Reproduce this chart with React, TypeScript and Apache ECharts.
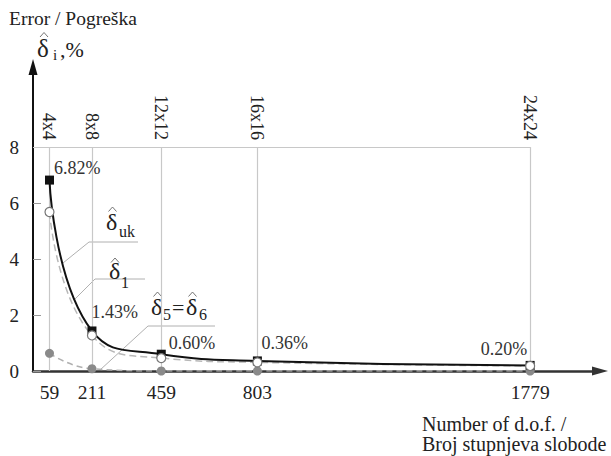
import React, { useEffect, useRef } from 'react';
import * as echarts from 'echarts';

// ---- data ----
const dof = [59, 211, 459, 803, 1779];
const meshLabels = ['4x4', '8x8', '12x12', '16x16', '24x24'];
const errUk = [6.82, 1.43, 0.6, 0.36, 0.2];
const errUkLabels = ['6.82%', '1.43%', '0.60%', '0.36%', '0.20%'];
const err1 = [5.68, 1.27, 0.46, 0.31, 0.18];
const err56 = [0.63, 0.08, 0.0, 0.0, 0.0];
const yTicks = [0, 2, 4, 6, 8];
const gridTop = 8;

const FONT = 'Liberation Serif';
const XMAX = 2029;
const YMAX = 10.86;

const ukLabelLayout = [
  { position: 'right', offset: [-5, -12.5] },
  { position: 'right', offset: [-10, -18.5] },
  { position: 'right', offset: [-2, -11] },
  { position: 'right', offset: [-5.5, -18] },
  { position: 'left', offset: [6.5, -16] },
];

const txt = (x: number, y: number, text: string, size: number) => ({
  type: 'text',
  x,
  y,
  silent: true,
  style: {
    text,
    fontFamily: FONT,
    fontSize: size,
    fill: '#222',
    align: 'left',
    verticalAlign: 'middle',
  },
});

const leader = (pts: number[][]) => ({
  type: 'polyline',
  silent: true,
  shape: { points: pts },
  style: { stroke: '#b0b0b0', lineWidth: 1, fill: 'none' },
});

const hatMark = (cx: number, cy: number) => ({
  type: 'polyline',
  silent: true,
  shape: { points: [[cx - 4, cy + 2.5], [cx, cy - 2], [cx + 4, cy + 2.5]] },
  style: { stroke: '#666', lineWidth: 0.9, fill: 'none' },
});

export default function App() {
  const ref = useRef<HTMLDivElement>(null);
  useEffect(() => {
    if (!ref.current) return;
    const chart = echarts.init(ref.current, undefined, { renderer: 'svg' });
    const d = 'δ';

    const gridLines: any[] = [
      [{ coord: [0, gridTop] }, { coord: [dof[dof.length - 1], gridTop] }],
      ...dof.map((x) => [{ coord: [x, 0] }, { coord: [x, gridTop] }]),
    ];

    const option: any = {
      animation: false,
      textStyle: { fontFamily: FONT },
      grid: { left: 33, right: 11, top: 67, bottom: 85, containLabel: false },
      xAxis: [
        {
          type: 'value',
          min: 0,
          max: XMAX,
          position: 'bottom',
          axisLine: {
            show: true,
            lineStyle: { color: '#333', width: 2.5 },
            symbol: ['none', 'triangle'],
            symbolSize: [9, 16],
          },
          axisTick: { show: false },
          splitLine: { show: false },
          axisLabel: {
            customValues: dof,
            formatter: (v: number) => String(v),
            fontFamily: FONT,
            fontSize: 19.5,
            color: '#222',
            margin: 11,
          },
        },
        {
          type: 'value',
          min: 0,
          max: XMAX,
          position: 'top',
          offset: -81,
          axisLine: { show: false },
          axisTick: { show: false },
          splitLine: { show: false },
          axisLabel: {
            customValues: dof,
            rotate: 90,
            margin: 8,
            formatter: (v: number) => {
              const i = dof.indexOf(v);
              return i >= 0 ? meshLabels[i] : '';
            },
            fontFamily: FONT,
            fontSize: 18,
            color: '#222',
          },
        },
      ],
      yAxis: {
        type: 'value',
        min: 0,
        max: YMAX,
        axisLine: {
          show: true,
          lineStyle: { color: '#111', width: 2 },
          symbol: ['none', 'triangle'],
          symbolSize: [9, 16],
        },
        axisTick: {
          show: true,
          customValues: yTicks,
          inside: true,
          length: 8,
          lineStyle: { color: '#999', width: 1 },
        },
        splitLine: { show: false },
        axisLabel: {
          customValues: yTicks,
          fontFamily: FONT,
          fontSize: 19,
          color: '#222',
          margin: 14,
        },
      },
      series: [
        {
          name: 'd56',
          type: 'line',
          smooth: 0.5,
          z: 2,
          data: dof.map((x, i) => [x, err56[i]]),
          symbol: 'circle',
          symbolSize: 9,
          itemStyle: { color: '#8a8a8a' },
          lineStyle: { color: '#b0b0b0', width: 1.5, type: [6, 4] },
          markLine: {
            silent: true,
            symbol: ['none', 'none'],
            label: { show: false },
            lineStyle: { color: '#c8c8c8', width: 1.2, type: 'solid' },
            data: gridLines,
            z: 1,
          },
        },
        {
          name: 'd1',
          type: 'line',
          smooth: 0.5,
          z: 3,
          data: dof.map((x, i) => [x, err1[i]]),
          symbol: 'none',
          lineStyle: { color: '#b8b8b8', width: 1.5, type: [7, 4] },
        },
        {
          name: 'duk',
          type: 'line',
          smooth: 0.5,
          z: 4,
          data: dof.map((x, i) => ({
            value: [x, errUk[i]],
            label: {
              show: true,
              position: ukLabelLayout[i].position,
              offset: ukLabelLayout[i].offset,
              formatter: errUkLabels[i],
            },
          })),
          symbol: 'rect',
          symbolSize: 9,
          itemStyle: { color: '#111' },
          lineStyle: { color: '#111', width: 2 },
          label: { fontFamily: FONT, fontSize: 18, color: '#333' },
        },
        {
          name: 'd1pts',
          type: 'scatter',
          z: 5,
          data: dof.map((x, i) => [x, err1[i]]),
          symbol: 'circle',
          symbolSize: 9,
          itemStyle: { color: '#fff', borderColor: '#777', borderWidth: 1.2, opacity: 1 },
        },
      ],
      graphic: [
        txt(9, 18.6, 'Error / Pogreška', 19.5),
        txt(37, 48.6, d, 25),
        hatMark(44, 34.5),
        txt(53, 55, 'i', 15),
        txt(60, 49.6, ',%', 22),
        // delta uk
        leader([[63, 263], [89, 242], [138, 242]]),
        txt(106, 221.9, d, 24),
        hatMark(112.5, 209),
        txt(119, 231.6, 'uk', 16),
        // delta 1
        leader([[74, 300], [95, 279], [145, 279]]),
        txt(109, 271, d, 24),
        hatMark(115, 260),
        txt(121, 282.6, '1', 16),
        // delta5 = delta6
        leader([[100, 370], [148, 326], [215, 326]]),
        txt(151, 306.9, d, 24),
        hatMark(157.5, 294),
        txt(163, 314.6, '5', 16),
        txt(172, 307.6, '=', 22),
        txt(186, 306.9, d, 24),
        hatMark(192.5, 294),
        txt(199, 314.6, '6', 16),
        // axis name
        txt(422, 424.2, 'Number of d.o.f. /', 20),
        txt(422, 444.2, 'Broj stupnjeva slobode', 20),
      ],
    };
    chart.setOption(option);
    return () => chart.dispose();
  }, []);
  return (
    <div
      ref={ref}
      style={{ position: 'fixed', left: 0, top: 0, width: 611, height: 456, background: '#fff' }}
    />
  );
}
